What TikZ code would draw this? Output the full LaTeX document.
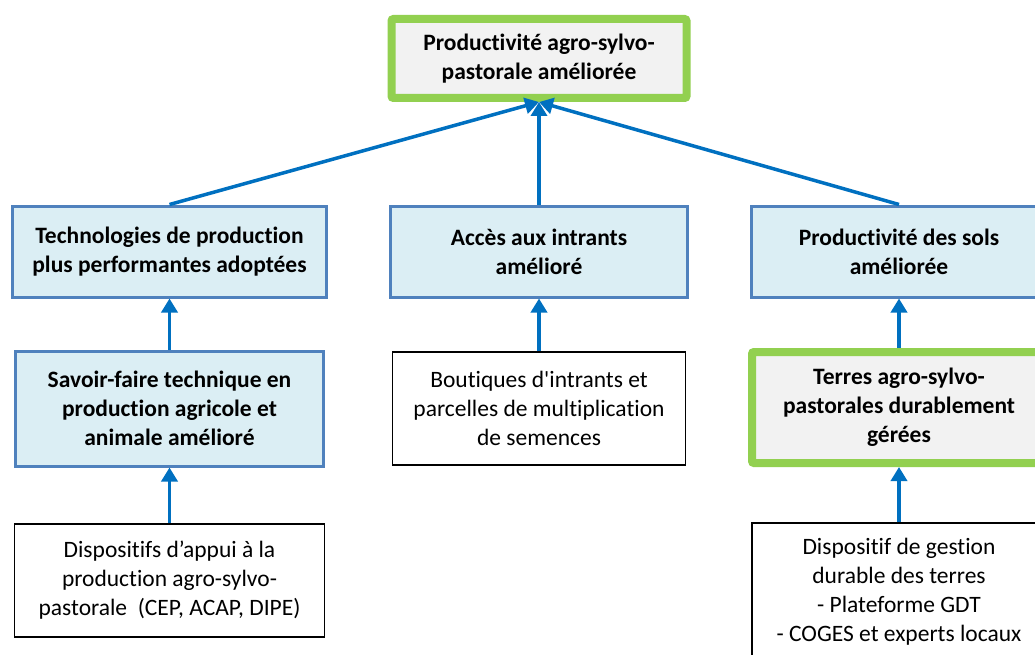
\documentclass[tikz,border=0pt]{standalone}
\usepackage{fontspec}
\setmainfont{Carlito}[Ligatures=NoCommon]
\usetikzlibrary{arrows.meta}
\definecolor{vert}{HTML}{92D050}
\definecolor{grisfond}{HTML}{F2F2F2}
\definecolor{bleufond}{HTML}{DBEEF4}
\definecolor{bleubord}{HTML}{4F81BD}
\definecolor{bleufleche}{HTML}{0070C0}
\begin{document}
\begin{tikzpicture}[x=1pt, y=-1pt,
	every node/.style={align=center, inner sep=3pt, font=\fontsize{23.5}{29}\selectfont},
	resultat/.style={draw=vert, line width=8pt, fill=grisfond, rounded corners=2pt, font=\bfseries\fontsize{23.5}{29}\selectfont},
	effet/.style={draw=bleubord, line width=3pt, fill=bleufond, font=\bfseries\fontsize{23.5}{29}\selectfont},
	moyen/.style={draw=black, line width=1.2pt, fill=white},
	fleche/.style={draw=bleufleche, line width=3.5pt, -{Triangle[length=14pt,width=16pt]}}]
	\path[use as bounding box, clip] (0,0) rectangle (1035,655);
	
	\node[resultat, minimum width=295pt, minimum height=79pt] (prod) at (539,58.5) {Productivité agro-sylvo-\\pastorale améliorée};
	
	\node[effet, minimum width=314pt, minimum height=91pt] (techno) at (169.5,251.5) {Technologies de production\\plus performantes adoptées};
	\node[effet, minimum width=297pt, minimum height=91pt] (acces) at (539,251.5) {Accès aux intrants\\amélioré};
	\node[effet, minimum width=296pt, minimum height=91pt] (sols) at (899,251.5) {Productivité des sols\\améliorée};
	
	\node[effet, minimum width=308pt, minimum height=115pt] (savoir) at (169.5,408.5) {Savoir-faire technique en\\production agricole et\\animale amélioré};
	\node[moyen, minimum width=293pt, minimum height=113pt] (boutiques) at (539,408.5) {Boutiques d\textquotesingle intrants et\\parcelles de multiplication\\de semences};
	\node[resultat, minimum width=294pt, minimum height=111pt] (terres) at (899,407.5) {Terres agro-sylvo-\\pastorales durablement\\gérées};
	
	\node[moyen, minimum width=310pt, minimum height=113pt] (appui) at (169.5,580.5) {Dispositifs d’appui à la\\production agro-sylvo-\\pastorale\ \ (CEP, ACAP, DIPE)};
	\node[moyen, minimum width=294pt, minimum height=137pt] (gestion) at (899,591.5) {Dispositif de gestion\\durable des terres\\- Plateforme GDT\\- COGES et experts locaux};
	
	\draw[fleche] (techno.north) -- (prod.south);
	\draw[fleche] (acces.north) -- (prod.south);
	\draw[fleche] (sols.north) -- (prod.south);
	\draw[fleche] (savoir.north) -- (techno.south);
	\draw[fleche] (boutiques.north) -- (acces.south);
	\draw[fleche] (terres.north) -- (sols.south);
	\draw[fleche] (appui.north) -- (savoir.south);
	\draw[fleche] (gestion.north) -- (terres.south);
\end{tikzpicture}
\end{document}
